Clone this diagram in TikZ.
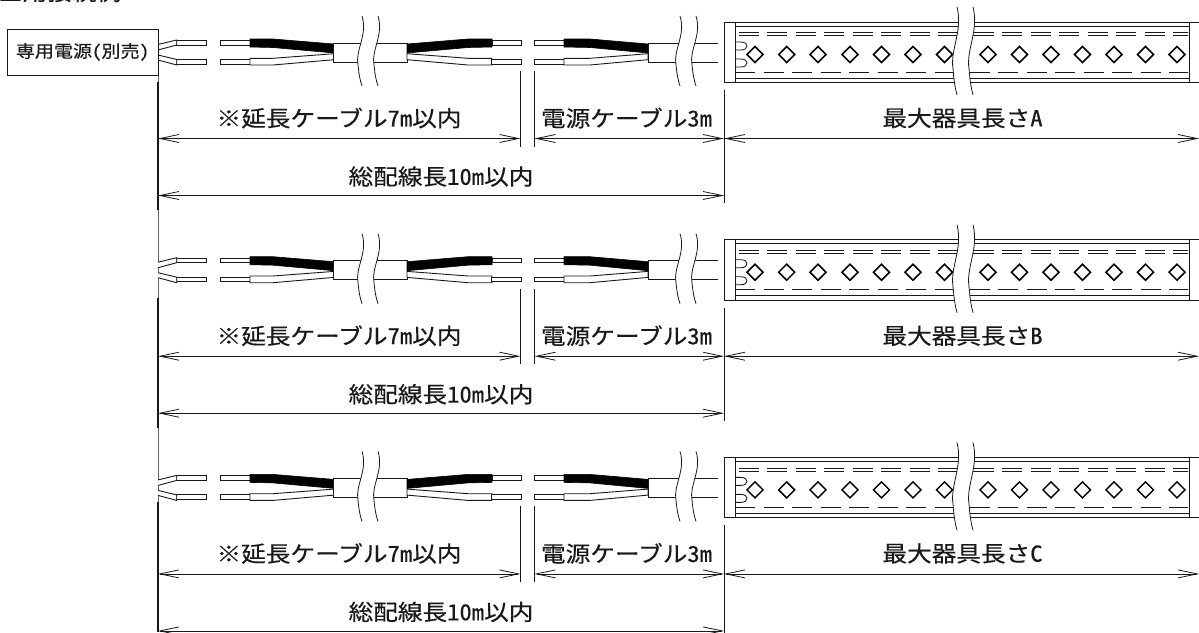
\documentclass[tikz,border=0pt]{standalone}
\usepackage{fontspec}
\usetikzlibrary{arrows.meta}
\newfontfamily\jpfont[FakeStretch=1.12,FakeBold=0.35,RawFeature={+hwid}]{Noto Sans CJK JP}
\definecolor{ink}{gray}{0.1}
\tikzset{
  x=1pt,y=-1pt,
  line/.style={draw=ink,line width=0.85pt},
  thin line/.style={draw=ink,line width=0.8pt},
  tube/.style={draw=ink,line width=0.9pt,fill=white},
  blackcore/.style={draw=black,line width=0.6pt,fill=black,line join=round},
  dim/.style={draw=ink,line width=0.8pt,{Straight Barb[length=19pt,width=8pt]}-{Straight Barb[length=19pt,width=8pt]}},
  extline/.style={draw=ink,line width=0.9pt},
  label/.style={font=\jpfont\fontsize{22}{24}\selectfont,inner sep=0pt,text=ink},
  psbox/.style={draw=ink,line width=0.9pt,fill=white,minimum width=151pt,minimum height=46pt,inner sep=0pt,font=\jpfont\fontsize{17}{19}\selectfont,text=ink},
  dia/.style={draw=black,line width=1.5pt,fill=white,line join=miter},
  dashA/.style={draw=ink,line width=0.75pt,dash pattern=on 20pt off 8.5pt},
}
\newcommand{\brkmark}[3]{%
  \begin{scope}[shift={(#1,#2)},yscale=#3]
    \fill[white] (0,0) .. controls (6,19) and (-7,34) .. (-4,49) .. controls (-3,59) and (-2,64) .. (0,70)
      -- (16,70) .. controls (14,64) and (13,59) .. (12,49) .. controls (9,34) and (22,19) .. (16,0) -- cycle;
    \draw[thin line] (0,0) .. controls (6,19) and (-7,34) .. (-4,49) .. controls (-3,59) and (-2,64) .. (0,70);
    \draw[thin line] (16,0) .. controls (22,19) and (9,34) .. (12,49) .. controls (13,59) and (14,64) .. (16,70);
  \end{scope}}
\newcommand{\core}[3]{%
  \fill[blackcore] (#1,39) -- (#2,39) -- (#3,44) -- (#3,53) -- (#2,47.5) -- (#1,47) -- cycle;
  \draw[tube] (#1,58.3) -- (#2,58.3) -- (#3,53.7) -- (#3,59.7) -- (#2,65) -- (#1,65) -- cycle;}
\newcommand{\row}[2]{%
  \coordinate (#1fan) at (158,52);
  \draw[tube] (176.7,40.5) rectangle (206.7,45);
  \draw[tube] (176.7,59.5) rectangle (206.7,64);
  \draw[tube] (158,44.5) -- (176.7,40) -- (176.7,45) -- (158,50);
  \draw[tube] (158,55) -- (176.7,59.5) -- (176.7,65) -- (158,60);
  \draw[tube] (220,40.5) rectangle (250,45);
  \draw[tube] (220,59.5) rectangle (250,64);
  \core{250}{273}{334}
  \draw[tube] (333.5,43) rectangle (407,62);
  \core{492}{468}{407}
  \draw[tube] (492,40.5) rectangle (521,45);
  \draw[tube] (491,59.5) rectangle (521,64);
  \brkmark{362}{16}{1}
  \draw[tube] (534.5,40.5) rectangle (564,45);
  \draw[tube] (534.5,59.5) rectangle (564,64);
  \core{564}{590}{648}
  \draw[line] (718,43) -- (648,43) -- (648,62) -- (718,62);
  \brkmark{680}{16}{1}
  \draw[line] (1199,22) -- (724,22) -- (724,82.5) -- (1199,82.5);
  \draw[line] (735,26) -- (1189,26);
  \draw[line] (735,78) -- (1189,78);
  \draw[line] (735,22) -- (735,82.5);
  \draw[line] (1189,22) -- (1189,82.5);
  \draw[dashA] (738.5,32.5) -- (1189,32.5);
  \draw[dashA] (738.5,35.7) -- (1189,35.7);
  \draw[dashA] (735,72) -- (1189,72);
  \draw[line] (735,42) -- (741,42) .. controls (749,42) and (749,50) .. (741,50) -- (735,50);
  \draw[line] (735,59) -- (741,59) .. controls (749,59) and (749,67) .. (741,67) -- (735,67);
  \foreach \cx in {755,786.7,818,850,881.5,913,944.5,988,1019.5,1051,1082.5,1114,1145.5,1177}{
    \draw[dia] (\cx,46.5) -- (\cx+8,54.5) -- (\cx,62.5) -- (\cx-8,54.5) -- cycle;}
  \begin{scope}
    \clip (975,28) rectangle (1188,76);
    \fill[white] (962,28) rectangle (1188,76);
    \draw[dashA] (973.5,32.5) -- (1189,32.5);
    \draw[dashA] (973.5,35.7) -- (1189,35.7);
    \draw[dashA] (969.5,72) -- (1189,72);
    \foreach \cx in {988,1019.5,1051,1082.5,1114,1145.5,1177}{
      \draw[dia] (\cx,46.5) -- (\cx+8,54.5) -- (\cx,62.5) -- (\cx-8,54.5) -- cycle;}
  \end{scope}
  \brkmark{957}{7}{1.257}
  \coordinate (#1L) at (158,138.5);
  \coordinate (#1M) at (520.5,138.5);
  \coordinate (#1N) at (534.5,138.5);
  \coordinate (#1R) at (724,138.5);
  \coordinate (#1E) at (1199,138.5);
  \coordinate (#1TL) at (158,195.5);
  \coordinate (#1TR) at (724,195.5);
  \coordinate (#1Ma) at (520.5,71);
  \coordinate (#1Mb) at (520.5,146.5);
  \coordinate (#1Na) at (534.5,71);
  \coordinate (#1Nb) at (534.5,146.5);
  \coordinate (#1Ra) at (724,90);
  \coordinate (#1Rb) at (724,203);
  \draw[extline] (#1Ma) -- (#1Mb);
  \draw[extline] (#1Na) -- (#1Nb);
  \draw[extline] (#1Ra) -- (#1Rb);
  \draw[dim] (#1L) -- (#1M);
  \draw[dim] (#1N) -- (#1R);
  \draw[dim] (#1R) -- (#1E);
  \draw[dim] (#1TL) -- (#1TR);
  \node[label] (#1t1) at (339,118) {※延長ケーブル7m以内};
  \node[label] (#1t2) at (626.5,118) {電源ケーブル3m};
  \node[label] (#1t3) at (962.5,118) {最大器具長さ#2};
  \node[label] (#1t4) at (441,176.5) {総配線長10m以内};
}
\begin{document}
\begin{tikzpicture}
\useasboundingbox (0,0) rectangle (1199,632);
\clip (0,0) rectangle (1199,632);
\fill[white] (0,0) rectangle (1199,632);
\node[label,font=\jpfont\fontsize{22}{24}\selectfont,anchor=west] (title) at (-2,-8) {■用接続例};
\coordinate (vt) at (158,75);
\coordinate (vb) at (158,632);
\draw[draw=black!60,line width=1pt] (vt) -- (vb);
\draw[extline,line width=1.1pt] (158,82) -- (158,210);
\draw[extline,line width=1.1pt] (158,298) -- (158,428);
\draw[extline,line width=1.1pt] (158,502) -- (158,632);
\row{a}{A}
\begin{scope}[yshift=-217.7pt]\row{b}{B}\end{scope}
\begin{scope}[yshift=-435.4pt]\row{c}{C}\end{scope}
\node[psbox] (power) at (82.5,52) {専用電源(別売)};
\end{tikzpicture}
\end{document}
